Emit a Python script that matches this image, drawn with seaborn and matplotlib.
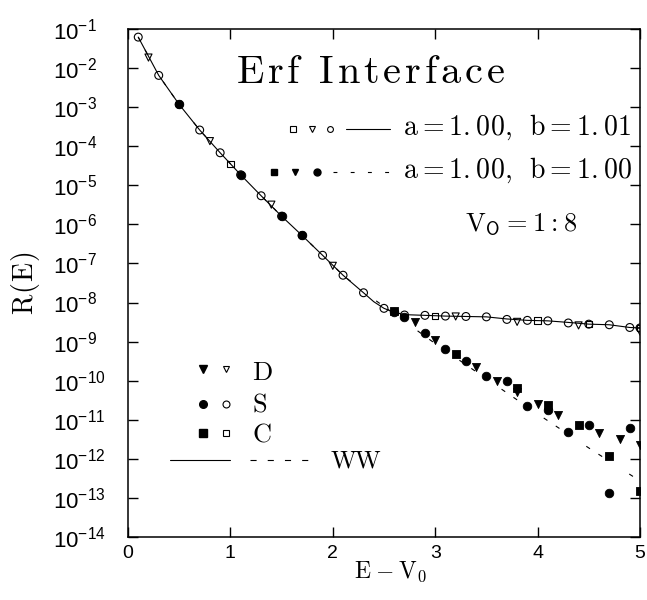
import numpy as np
import pandas as pd
import matplotlib
matplotlib.use("Agg")
import matplotlib.pyplot as plt
import seaborn as sns

# ---------------- data ----------------
# a=1.00, b=1.01  (open symbols, solid line)
E_open_S = [0.1, 0.3, 0.5, 0.7, 0.9, 1.1, 1.3, 1.5, 1.7, 1.9, 2.1, 2.3, 2.5, 2.7,
            2.9, 3.1, 3.3, 3.5, 3.7, 3.9, 4.1, 4.3, 4.5, 4.7, 4.9, 5.0]
R_open_S = [6.2e-2, 6.5e-3, 1.17e-3, 2.6e-4, 6.8e-5, 1.86e-5, 5.4e-6, 1.62e-6, 5.2e-7,
            1.62e-7, 5.0e-8, 1.78e-8, 7.1e-9, 4.8e-9, 4.7e-9, 4.5e-9, 4.4e-9, 4.3e-9,
            3.7e-9, 3.5e-9, 3.4e-9, 3.0e-9, 2.8e-9, 2.7e-9, 2.3e-9, 2.24e-9]
E_open_D = [0.2, 0.8, 1.4, 2.0, 3.2, 3.8, 4.4, 5.0]
R_open_D = [1.86e-2, 1.35e-4, 3.2e-6, 8.7e-8, 4.4e-9, 3.2e-9, 2.6e-9, 1.8e-9]
E_open_C = [1.0, 3.0, 4.0, 4.5, 5.0]
R_open_C = [3.5e-5, 4.5e-9, 3.5e-9, 2.8e-9, 2.24e-9]

E_line_b101 = [0.1, 0.3, 0.5, 0.7, 0.9, 1.1, 1.3, 1.5, 1.7, 1.9, 2.1, 2.3, 2.4, 2.5,
               2.6, 2.7, 2.9, 3.1, 3.3, 3.5, 3.7, 3.9, 4.1, 4.3, 4.5, 4.7, 4.9, 5.0]
R_line_b101 = [6.2e-2, 6.5e-3, 1.17e-3, 2.6e-4, 6.8e-5, 1.86e-5, 5.4e-6, 1.62e-6, 5.2e-7,
               1.62e-7, 5.0e-8, 1.78e-8, 1.05e-8, 7.1e-9, 5.6e-9, 4.9e-9, 4.7e-9, 4.5e-9,
               4.4e-9, 4.3e-9, 3.8e-9, 3.5e-9, 3.4e-9, 3.1e-9, 2.8e-9, 2.7e-9, 2.3e-9, 2.24e-9]

# a=1.00, b=1.00  (filled symbols, dashed line = WW)
E_fill_S = [0.5, 1.1, 1.5, 1.7, 2.6, 2.7, 2.9, 3.1, 3.3, 3.5, 3.7, 3.9, 4.1, 4.3, 4.5, 4.7, 4.9]
R_fill_S = [1.17e-3, 1.86e-5, 1.62e-6, 5.2e-7, 5.8e-9, 4.2e-9, 1.7e-9, 6.5e-10, 3.2e-10,
            1.3e-10, 9.8e-11, 2.3e-11, 1.8e-11, 4.8e-12, 7.4e-12, 1.35e-13, 6.3e-12]
E_fill_D = [2.8, 3.0, 3.4, 3.6, 3.8, 4.0, 4.2, 4.6, 4.8, 5.0]
R_fill_D = [3.2e-9, 1.1e-9, 2.2e-10, 1.0e-10, 5.0e-11, 2.5e-11, 1.35e-11, 4.5e-12, 3.2e-12, 2.3e-12]
E_fill_C = [2.6, 3.2, 3.8, 4.1, 4.4, 4.7, 5.0]
R_fill_C = [6.0e-9, 4.8e-10, 6.5e-11, 2.4e-11, 7.4e-12, 1.2e-12, 1.5e-13]

E_line_b100 = [0.1, 0.3, 0.5, 0.7, 0.9, 1.1, 1.3, 1.5, 1.7, 1.9, 2.1, 2.3, 2.5,
               3.0, 3.5, 4.0, 4.5, 4.95]
R_line_b100 = [6.2e-2, 6.5e-3, 1.17e-3, 2.6e-4, 6.8e-5, 1.86e-5, 5.4e-6, 1.62e-6, 5.2e-7,
               1.62e-7, 5.0e-8, 1.9e-8, 7.9e-9, 8.9e-10, 1.12e-10, 1.41e-11, 1.9e-12, 3.3e-13]

x_ticks = [0, 1, 2, 3, 4, 5]
y_exponents = [-1, -2, -3, -4, -5, -6, -7, -8, -9, -10, -11, -12, -13, -14]

title_text = "Erf Interface"
legend_top = ["a=1.00,  b=1.01", "a=1.00,  b=1.00"]
legend_methods = ["D", "S", "C"]
legend_ww = "WW"
vo_text = "V_O=1:8"
x_label = "E-V_0"
y_label = "R(E)"

# ---------------- style ----------------
sns.set_theme(style="ticks")
plt.rcParams.update({
    "font.family": ["Liberation Sans", "DejaVu Sans"],
    "mathtext.fontset": "custom",
    "mathtext.rm": "Liberation Sans",
    "mathtext.it": "Liberation Sans:italic",
    "mathtext.bf": "Liberation Sans:bold",
    "axes.edgecolor": "black",
    "axes.labelcolor": "black",
    "axes.linewidth": 1.1,
    "xtick.color": "black",
    "ytick.color": "black",
    "text.color": "black",
})


def spaced(s, sp):
    """Roman mathtext with a little extra letter spacing (wide plotter font look)."""
    out = []
    i = 0
    while i < len(s):
        ch = s[i]
        if ch == "_":
            out.append("_{\\mathsf{" + s[i + 1] + "}}")
            i += 2
            continue
        if ch == " ":
            tok = "\\ "
        elif ch == ":":
            tok = "{:}"
        elif ch == ",":
            tok = "{,}"
        else:
            tok = ch
        if out and sp:
            out.append("\\hspace{%.3f}" % sp)
        out.append(tok)
        i += 1
    return "$\\mathrm{" + "".join(out) + "}$"


W, H = 647, 600
fig = plt.figure(figsize=(W / 100, H / 100), dpi=100)
AX_L, AX_R, AX_T, AX_B = 128, 640, 29, 537
ax = fig.add_axes([AX_L / W, (H - AX_B) / H, (AX_R - AX_L) / W, (AX_B - AX_T) / H])


def af(px, py):
    """pixel position -> axes fraction"""
    return (px - AX_L) / (AX_R - AX_L), (AX_B - py) / (AX_B - AX_T)


# ---------------- lines ----------------
sns.lineplot(x=E_line_b101, y=R_line_b101, ax=ax, color="black", lw=0.8,
             sort=False, estimator=None, zorder=2)
sns.lineplot(x=E_line_b100, y=R_line_b100, ax=ax, color="black", lw=0.8,
             sort=False, estimator=None, zorder=2, linestyle=(0, (4, 9, 4, 29)))

# ---------------- points ----------------
open_sets = [(E_open_S, R_open_S, "o", 32), (E_open_D, R_open_D, "v", 26),
             (E_open_C, R_open_C, "s", 22)]
fill_sets = [(E_fill_S, R_fill_S, "o", 38), (E_fill_D, R_fill_D, "v", 34),
             (E_fill_C, R_fill_C, "s", 26)]
for E, R, m, s in fill_sets:
    sns.scatterplot(x=E, y=R, ax=ax, marker=m, s=s, color="black",
                    edgecolor="black", linewidth=0.6, zorder=3)
for E, R, m, s in open_sets:
    sns.scatterplot(x=E, y=R, ax=ax, marker=m, s=s, color="none",
                    edgecolor="black", linewidth=0.8, zorder=4)

# ---------------- axes ----------------
ax.set_yscale("log")
ax.set_xlim(0, 5)
ax.set_ylim(1e-14, 1e-1)
ax.set_xticks(x_ticks, labels=[str(t) for t in x_ticks])
ax.set_yticks([10.0 ** e for e in y_exponents],
              labels=[f"$10^{{{e}}}$".replace("-", "\u2212") for e in y_exponents])
ax.yaxis.set_minor_locator(matplotlib.ticker.NullLocator())
ax.tick_params(axis="both", direction="in", length=7, width=1.0,
               top=True, right=True)
ax.tick_params(axis="x", pad=6, labelsize=14)
ax.tick_params(axis="y", pad=54, labelsize=16)
for lab in ax.get_yticklabels():
    lab.set_horizontalalignment("left")
for sp in ax.spines.values():
    sp.set_visible(True)
    sp.set_color("black")

ax.set_xlabel(spaced(x_label.replace("-", "\u2212"), 0.05), fontsize=17,
              math_fontfamily="cm")
ax.xaxis.set_label_coords(*af(391, 578))
ax.xaxis.label.set_verticalalignment("baseline")
ax.set_ylabel(spaced(y_label, 0.04), fontsize=20, math_fontfamily="cm", labelpad=8)

# ---------------- annotations ----------------
tr = ax.transAxes
ax.text(*af(371, 83), spaced(title_text, 0.11), transform=tr, ha="center",
        va="baseline", fontsize=29, math_fontfamily="cm")
ax.text(*af(465, 230), spaced(vo_text, 0.03), transform=tr, ha="left",
        va="baseline", fontsize=19, math_fontfamily="cm")

# top-right legend
for lab, base in zip(legend_top, [135, 178]):
    ax.text(*af(403, base), spaced(lab, 0.012), transform=tr, ha="left",
            va="baseline", fontsize=20, math_fontfamily="cm")
for (px, m) in [(293, "s"), (312, "v"), (330, "o")]:
    ax.plot(*af(px, 129), marker=m, ms=4.2, mfc="white", mec="black", mew=0.8,
            transform=tr, clip_on=False)
for (px, m) in [(274, "s"), (295, "v"), (317, "o")]:
    ax.plot(*af(px, 172), marker=m, ms=5.0, mfc="black", mec="black",
            transform=tr, clip_on=False)
x0, y0 = af(346, 129); x1, _ = af(390, 129)
ax.plot([x0, x1], [y0, y0], color="black", lw=0.8, transform=tr)
x0, y0 = af(333, 172); x1, _ = af(392, 172)
ax.plot([x0, x1], [y0, y0], color="black", lw=0.8, transform=tr,
        linestyle=(0, (3.5, 12)))

# bottom-left legend
rows = [(369, "v", 380), (404, "o", 411), (433, "s", 442)]
for (py, m, base), lab in zip(rows, legend_methods):
    ax.plot(*af(203, py), marker=m, ms=5.5, mfc="black", mec="black", transform=tr)
    ax.plot(*af(226, py), marker=m, ms=5.0, mfc="white", mec="black", mew=0.8,
            transform=tr)
    ax.text(*af(252, base), spaced(lab, 0.0), transform=tr, ha="left",
            va="baseline", fontsize=19, math_fontfamily="cm")
x0, y0 = af(170, 460); x1, _ = af(230, 460)
ax.plot([x0, x1], [y0, y0], color="black", lw=0.8, transform=tr)
x0, y0 = af(250, 460); x1, _ = af(308, 460)
ax.plot([x0, x1], [y0, y0], color="black", lw=0.8, transform=tr,
        linestyle=(0, (5.5, 10)))
ax.text(*af(330, 468), spaced(legend_ww, -0.05), transform=tr, ha="left",
        va="baseline", fontsize=18, math_fontfamily="cm")

fig.savefig("out.png", dpi=100, facecolor="white")
